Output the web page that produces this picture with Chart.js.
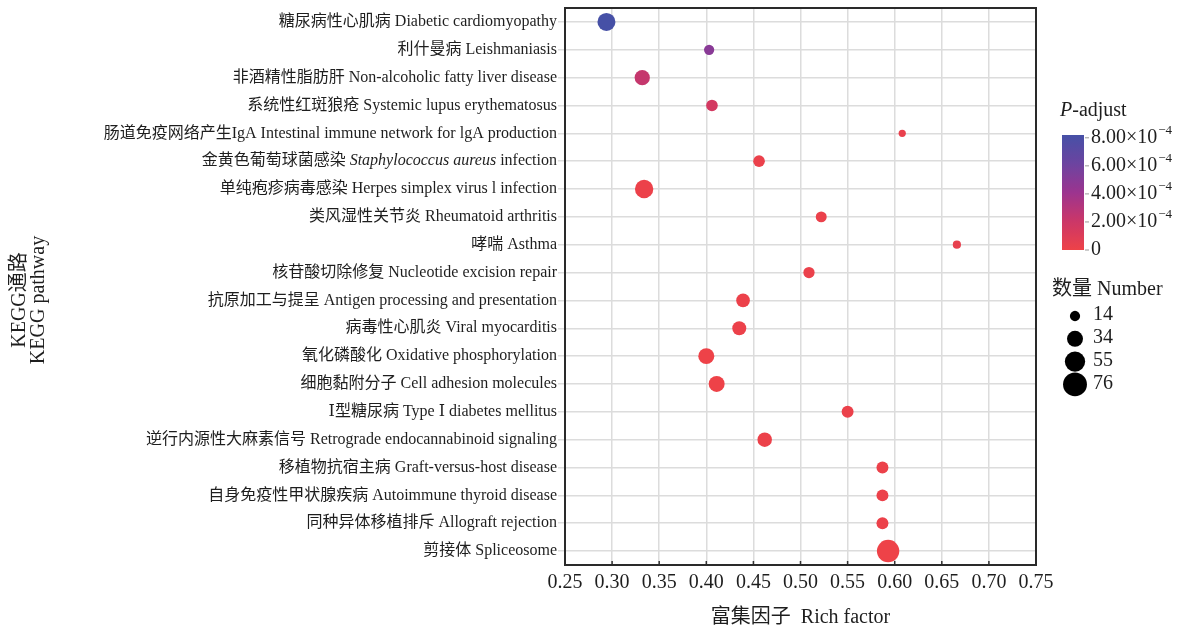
<!DOCTYPE html>
<html>
<head>
<meta charset="utf-8">
<script src="https://cdn.jsdelivr.net/npm/chart.js@4/dist/chart.umd.min.js"></script>
<style>
  html, body { margin: 0; padding: 0; background: #fff; }
  #c { display: block; }
</style>
</head>
<body>
<canvas id="c" width="1181" height="631"></canvas>
<script>
// KEGG enrichment bubble chart: pathways, rich factor, gene count, adjusted P
const pathways = [
  '糖尿病性心肌病 Diabetic cardiomyopathy',
  '利什曼病 Leishmaniasis',
  '非酒精性脂肪肝 Non-alcoholic fatty liver disease',
  '系统性红斑狼疮 Systemic lupus erythematosus',
  '肠道免疫网络产生IgA Intestinal immune network for lgA production',
  '金黄色葡萄球菌感染 Staphylococcus aureus infection',
  '单纯疱疹病毒感染 Herpes simplex virus l infection',
  '类风湿性关节炎 Rheumatoid arthritis',
  '哮喘 Asthma',
  '核苷酸切除修复 Nucleotide excision repair',
  '抗原加工与提呈 Antigen processing and presentation',
  '病毒性心肌炎 Viral myocarditis',
  '氧化磷酸化 Oxidative phosphorylation',
  '细胞黏附分子 Cell adhesion molecules',
  'Ⅰ型糖尿病 Type Ⅰ diabetes mellitus',
  '逆行内源性大麻素信号 Retrograde endocannabinoid signaling',
  '移植物抗宿主病 Graft-versus-host disease',
  '自身免疫性甲状腺疾病 Autoimmune thyroid disease',
  '同种异体移植排斥 Allograft rejection',
  '剪接体 Spliceosome'
];
const richFactor = [0.294, 0.403, 0.332, 0.406, 0.608, 0.456, 0.334, 0.522, 0.666, 0.509,
                    0.439, 0.435, 0.400, 0.411, 0.550, 0.462, 0.587, 0.587, 0.587, 0.593];
const geneCount  = [43, 14, 31, 18, 7, 18, 45, 16, 9, 17,
                    25, 26, 34, 34, 19, 28, 19, 19, 19, 67];
const pAdjust    = [8.2e-4, 4.9e-4, 2.3e-4, 1.6e-4, 3e-5, 2e-5, 1e-5, 2e-5, 4e-5, 2e-5,
                    1e-5, 1e-5, 1e-6, 1e-6, 2e-5, 1e-5, 1e-5, 1e-5, 1e-5, 1e-7];
const xTicks = [0.25, 0.30, 0.35, 0.40, 0.45, 0.50, 0.55, 0.60, 0.65, 0.70, 0.75];
const colorbarTicks = [0, 2e-4, 4e-4, 6e-4, 8e-4];
const sizeLegend = [14, 34, 55, 76];
const italicTerms = ['Staphylococcus aureus'];

const FONT = '"Liberation Serif", "DejaVu Serif", "Noto Sans CJK SC", serif';
const TEXT = '#1e1e1e';
const GRID = '#DCDCDC';

// low (red) -> high (blue) colour ramp for adjusted P
const colorStops = [
  [0.00, [238, 66, 72]],
  [0.25, [203, 55, 104]],
  [0.50, [156, 52, 143]],
  [0.75, [108, 68, 160]],
  [1.00, [70, 80, 166]]
];
const pMax = Math.max(...pAdjust);
function pColor(p) {
  const t = Math.max(0, Math.min(1, p / pMax));
  for (let k = 1; k < colorStops.length; k++) {
    const [t1, c1] = colorStops[k];
    const [t0, c0] = colorStops[k - 1];
    if (t <= t1) {
      const f = (t - t0) / (t1 - t0);
      const c = c0.map((v, j) => Math.round(v + (c1[j] - v) * f));
      return `rgb(${c[0]},${c[1]},${c[2]})`;
    }
  }
  return 'rgb(70,80,166)';
}
const radiusFor = n => 1.37 * Math.sqrt(n);

function labelParts(text) {
  for (const term of italicTerms) {
    const k = text.indexOf(term);
    if (k >= 0) return [[text.slice(0, k), false], [term, true], [text.slice(k + term.length), false]];
  }
  return [[text, false]];
}

const decorations = {
  id: 'decorations',
  afterDraw(chart) {
    const ctx = chart.ctx;
    const area = chart.chartArea;
    const xs = chart.scales.x, ys = chart.scales.y;
    ctx.save();

    // inner tick marks along the bottom edge
    ctx.strokeStyle = '#333';
    ctx.lineWidth = 1.5;
    xTicks.forEach(v => {
      const px = xs.getPixelForValue(v);
      ctx.beginPath();
      ctx.moveTo(px, area.bottom);
      ctx.lineTo(px, area.bottom - 4);
      ctx.stroke();
    });

    // panel frame
    ctx.strokeStyle = '#2a2a2a';
    ctx.lineWidth = 2;
    ctx.strokeRect(area.left, area.top, area.right - area.left, area.bottom - area.top);

    // pathway labels (with italic species names)
    ctx.fillStyle = TEXT;
    ctx.textBaseline = 'middle';
    ctx.textAlign = 'left';
    pathways.forEach((name, i) => {
      const py = ys.getPixelForTick(i);
      const parts = labelParts(name);
      let total = 0;
      const widths = parts.map(([s, it]) => {
        ctx.font = `${it ? 'italic ' : ''}16px ${FONT}`;
        const w = ctx.measureText(s).width;
        total += w;
        return w;
      });
      let x = area.left - 8 - total;
      parts.forEach(([s, it], k) => {
        ctx.font = `${it ? 'italic ' : ''}16px ${FONT}`;
        ctx.fillText(s, x, py);
        x += widths[k];
      });
    });

    // axis titles
    ctx.font = `20px ${FONT}`;
    ctx.textAlign = 'center';
    ctx.fillText('富集因子  Rich factor', (area.left + area.right) / 2, 618);
    ctx.save();
    ctx.translate(20, 300);
    ctx.rotate(-Math.PI / 2);
    ctx.fillText('KEGG通路', 0, 0);
    ctx.restore();
    ctx.save();
    ctx.translate(39, 300);
    ctx.rotate(-Math.PI / 2);
    ctx.fillText('KEGG pathway', 0, 0);
    ctx.restore();

    // colour bar legend
    const barL = 1062, barR = 1084, barT = 135, barB = 250;
    ctx.textAlign = 'left';
    ctx.font = `italic 20px ${FONT}`;
    ctx.fillText('P', 1060, 111);
    const pw = ctx.measureText('P').width;
    ctx.font = `20px ${FONT}`;
    ctx.fillText('-adjust', 1060 + pw, 111);

    const grad = ctx.createLinearGradient(0, barB, 0, barT);
    for (let s = 0; s <= 20; s++) grad.addColorStop(s / 20, pColor(pMax * s / 20));
    ctx.fillStyle = grad;
    ctx.fillRect(barL, barT, barR - barL, barB - barT);

    ctx.strokeStyle = '#999';
    ctx.lineWidth = 1;
    colorbarTicks.forEach(v => {
      const py = barB - (v / pMax) * (barB - barT);
      ctx.beginPath();
      ctx.moveTo(barR + 1, py);
      ctx.lineTo(barR + 5, py);
      ctx.stroke();
      ctx.fillStyle = TEXT;
      ctx.font = `20px ${FONT}`;
      if (v === 0) {
        ctx.fillText('0', 1091, py);
      } else {
        const base = (v / 1e-4).toFixed(2) + '×10';
        ctx.fillText(base, 1091, py);
        const bw = ctx.measureText(base).width;
        ctx.font = `13px ${FONT}`;
        ctx.fillText('−4', 1091 + bw + 1, py - 7);
      }
    });

    // size legend
    ctx.fillStyle = TEXT;
    ctx.font = `20px ${FONT}`;
    ctx.fillText('数量 Number', 1052, 290);
    sizeLegend.forEach((n, k) => {
      const py = 315 + k * 22.8;
      ctx.fillStyle = '#000';
      ctx.beginPath();
      ctx.arc(1075, py + 1, radiusFor(n), 0, Math.PI * 2);
      ctx.fill();
      ctx.fillStyle = TEXT;
      ctx.font = `20px ${FONT}`;
      ctx.fillText(String(n), 1093, py);
    });

    ctx.restore();
  }
};

// keep the panel edges fixed: no extra edge padding from the axes
function fixPadding(s) {
  s.paddingTop = 0; s.paddingBottom = 0; s.paddingLeft = 0; s.paddingRight = 0;
}

new Chart(document.getElementById('c'), {
  type: 'bubble',
  data: {
    datasets: [{
      data: pathways.map((p, i) => ({ x: richFactor[i], y: p, r: radiusFor(geneCount[i]) })),
      backgroundColor: pathways.map((_, i) => pColor(pAdjust[i])),
      borderWidth: 0,
      hoverRadius: 0
    }]
  },
  options: {
    responsive: false,
    animation: false,
    events: [],
    layout: { autoPadding: false, padding: { left: 0, right: 145, top: 8, bottom: 0 } },
    plugins: { legend: { display: false }, tooltip: { enabled: false } },
    scales: {
      x: {
        type: 'linear',
        min: 0.25,
        max: 0.75,
        afterFit: s => { s.height = 66; fixPadding(s); },
        afterBuildTicks: s => { s.ticks = xTicks.map(v => ({ value: v })); },
        ticks: {
          autoSkip: false,
          maxRotation: 0,
          padding: 6,
          color: TEXT,
          font: { family: FONT, size: 20 },
          callback: v => Number(v).toFixed(2)
        },
        grid: { color: GRID, lineWidth: 1.5, drawTicks: false },
        border: { display: false }
      },
      y: {
        type: 'category',
        labels: pathways,
        offset: true,
        afterFit: s => { s.width = 565; fixPadding(s); },
        ticks: { display: false },
        grid: { color: GRID, lineWidth: 1.5, drawTicks: true, tickLength: 7 },
        border: { display: false }
      }
    }
  },
  plugins: [decorations]
});
</script>
</body>
</html>
